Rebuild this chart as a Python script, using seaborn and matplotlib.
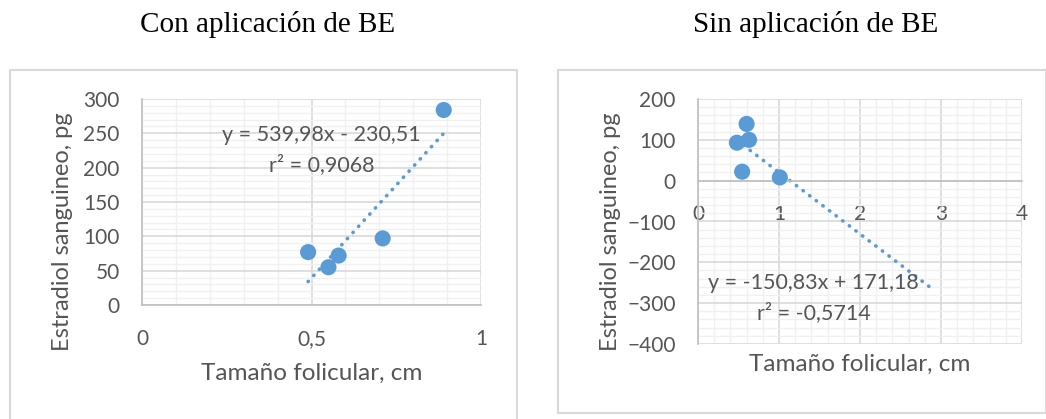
import numpy as np
import matplotlib
matplotlib.use("Agg")
import matplotlib.pyplot as plt
from matplotlib.patches import Rectangle
from matplotlib.ticker import MultipleLocator, FuncFormatter
import seaborn as sns

# ── Datos ────────────────────────────────────────────────
con_x = [0.49, 0.55, 0.58, 0.71, 0.89]
con_y = [77, 55, 72, 97, 284]
con_slope, con_intercept = 539.98, -230.51
con_eq = "y = 539,98x - 230,51"
con_r2 = "r² = 0,9068"

sin_x = [0.48, 0.60, 0.63, 0.545, 1.01]
sin_y = [93, 139, 100, 22, 8]
sin_slope, sin_intercept = -150.83, 171.18
sin_forecast_x = 2.92          # la línea de tendencia se prolonga hasta aquí
sin_eq = "y = -150,83x + 171,18"
sin_r2 = "r² = -0,5714"

titulos = ["Con aplicación de BE", "Sin aplicación de BE"]
xlabel = "Tamaño folicular, cm"
ylabel = "Estradiol sanguineo, pg"

# ── Estilo ───────────────────────────────────────────────
sns.set_style("white")
plt.rcParams["font.family"] = ["Lato", "DejaVu Sans"]
AZUL = "#5B9BD5"
GRIS_TXT = "#555555"
GRIS_EJE = "#bfbfbf"
GRID_MAY = "#d9d9d9"
GRID_MEN = "#f0f0f0"

fig = plt.figure(figsize=(10.46, 4.19), dpi=100)
W, H = 1046, 419

def px_axes(x0, y0, x1, y1):
    return fig.add_axes([x0 / W, 1 - y1 / H, (x1 - x0) / W, (y1 - y0) / H])

coma = FuncFormatter(lambda v, p: f"{v:g}".replace(".", ","))

def estilo(ax, xmaj, xmin_, ymaj, ymin_):
    ax.xaxis.set_major_locator(MultipleLocator(xmaj))
    ax.xaxis.set_minor_locator(MultipleLocator(xmin_))
    ax.yaxis.set_major_locator(MultipleLocator(ymaj))
    ax.yaxis.set_minor_locator(MultipleLocator(ymin_))
    ax.xaxis.set_major_formatter(coma)
    ax.grid(which="minor", color=GRID_MEN, linewidth=1.0)
    ax.grid(which="major", color=GRID_MAY, linewidth=1.2)
    ax.set_axisbelow(True)
    for s in ["top", "right"]:
        ax.spines[s].set_visible(False)
    for s in ["left", "bottom"]:
        ax.spines[s].set_color(GRIS_EJE)
        ax.spines[s].set_linewidth(1.2)
    ax.tick_params(which="major", axis="both", direction="out", length=5,
                   width=1.0, color=GRIS_EJE, labelsize=15, labelcolor=GRIS_TXT)
    ax.tick_params(axis="y", pad=11)
    ax.tick_params(axis="x", pad=12)
    ax.tick_params(which="minor", length=0)
    ax.set_xlabel(xlabel, fontsize=17.5, color=GRIS_TXT)
    ax.set_ylabel(ylabel, fontsize=17, color=GRIS_TXT)

# ── Panel izquierdo ──────────────────────────────────────
ax1 = px_axes(142, 99, 481, 305)
xs = np.array([min(con_x), max(con_x)])
sns.lineplot(x=xs, y=con_slope * xs + con_intercept, ax=ax1, color=AZUL,
             linewidth=2.6, linestyle=(0, (0.1, 2.2)), dash_capstyle="round")
sns.scatterplot(x=con_x, y=con_y, ax=ax1, color=AZUL, s=135, edgecolor="none", zorder=3)
ax1.set_xlim(0, 1)
ax1.set_ylim(0, 300)
estilo(ax1, 0.5, 0.1, 50, 10)
ax1.xaxis.set_label_coords(0.5, -0.28)
ax1.yaxis.set_label_coords(-0.205, 0.354)
ax1.text(0.528, 0.825, con_eq, transform=ax1.transAxes, ha="center", va="center",
         fontsize=15.5, color=GRIS_TXT)
ax1.text(0.53, 0.68, con_r2, transform=ax1.transAxes, ha="center", va="center",
         fontsize=15.5, color=GRIS_TXT)

# ── Panel derecho ────────────────────────────────────────
ax2 = px_axes(698, 99, 1022, 344)
xs = np.array([min(sin_x), sin_forecast_x])
sns.lineplot(x=xs, y=sin_slope * xs + sin_intercept, ax=ax2, color=AZUL,
             linewidth=2.6, linestyle=(0, (0.1, 2.2)), dash_capstyle="round")
sns.scatterplot(x=sin_x, y=sin_y, ax=ax2, color=AZUL, s=135, edgecolor="none", zorder=3)
ax2.set_xlim(0, 4)
ax2.set_ylim(-400, 200)
estilo(ax2, 1, 0.2, 100, 20)
ax2.spines["bottom"].set_position(("data", 0))
ax2.xaxis.set_label_coords(0.5, -0.04)
ax2.yaxis.set_label_coords(-0.237, 0.457)
ax2.text(0.356, 0.249, sin_eq, transform=ax2.transAxes, ha="center", va="center",
         fontsize=15.5, color=GRIS_TXT)
ax2.text(0.357, 0.13, sin_r2, transform=ax2.transAxes, ha="center", va="center",
         fontsize=15.5, color=GRIS_TXT)

# ── Marcos y títulos ─────────────────────────────────────
for (x0, y0, x1, y1) in [(10, 70, 517, 440), (558, 70, 1046, 413)]:
    fig.patches.append(Rectangle((x0 / W, 1 - y1 / H), (x1 - x0) / W, (y1 - y0) / H,
                                 transform=fig.transFigure, fill=False,
                                 edgecolor=GRID_MAY, linewidth=1.5))
for cx, t in zip([268, 816], titulos):
    fig.text(cx / W, 1 - 32 / H, t, ha="center", va="baseline",
             fontsize=21, family="Liberation Serif", color="black")

fig.savefig("out.png", dpi=100)
